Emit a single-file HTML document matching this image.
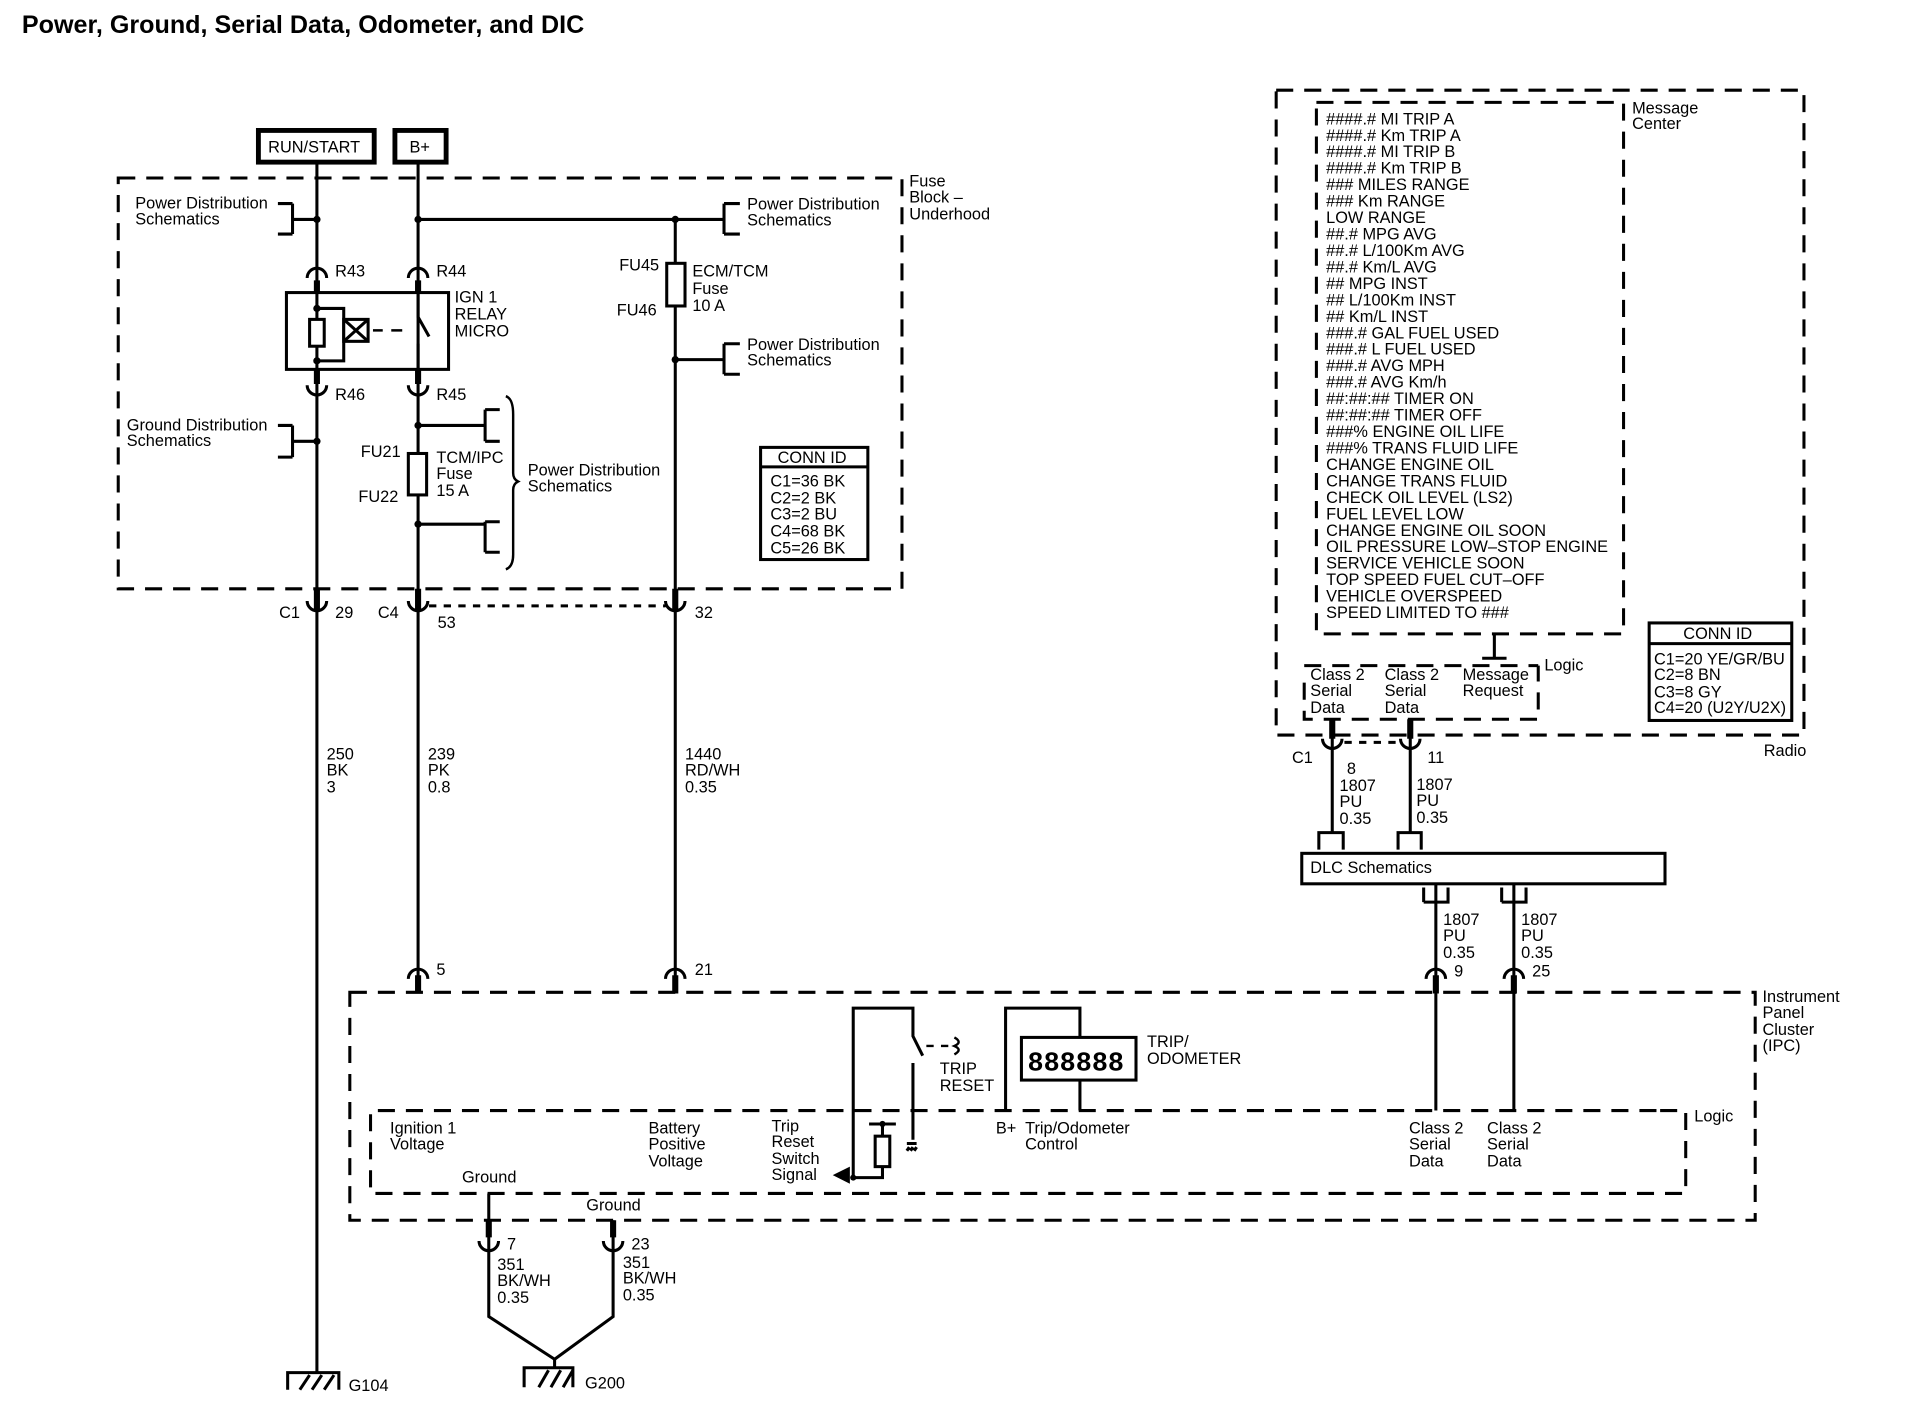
<!DOCTYPE html>
<html><head><meta charset="utf-8"><style>
html,body{margin:0;padding:0;background:#fff}
svg{display:block}
text{font-family:"Liberation Sans",sans-serif;font-size:13.4px;fill:#000}
.b{font-weight:bold}
</style></head><body>
<svg width="1910" height="1408" viewBox="0 0 1567 1155" preserveAspectRatio="none" xmlns="http://www.w3.org/2000/svg">
<rect width="1567" height="1155" fill="#fff"/>
<text x="18" y="27" class="b" style="font-size:20.6px">Power, Ground, Serial Data, Odometer, and DIC</text>
<g fill="none" stroke="#000" stroke-width="2.5">
<rect x="212" y="107" width="95" height="26" stroke-width="4"/>
<rect x="324" y="107" width="42" height="26" stroke-width="4"/>
<rect x="97" y="146" width="643" height="337" stroke-dasharray="14,9"/>
<rect x="287" y="814" width="1153" height="187" stroke-dasharray="14,9"/>
<path d="M1362 911 H1383 V979 H304 V911 H1362" stroke-dasharray="14,9"/>
<rect x="1047" y="74" width="433" height="529" stroke-dasharray="14,9"/>
<path d="M1080 84 H1332 V520 H1080 Z" stroke-dasharray="14,9"/>
<path d="M1070 560 V590 H1262 V546" stroke-dasharray="14,9"/>
<path d="M1070 546 H1262" stroke-dasharray="14,9"/>
<path d="M260 133 V1126"/>
<path d="M343 133 V815"/>
<path d="M554 180 V815"/>
<path d="M343 180 H594"/>
<path d="M594 167 V192 M594 167 H607 M594 192 H607"/>
<path d="M554 295 H594 M594 282 V307 M594 282 H607 M594 307 H607"/>
<path d="M260 180 H240 M240 167 V192 M228 167 H240 M228 192 H240"/>
<path d="M260 362 H240 M240 349 V375 M228 349 H240 M228 375 H240"/>
<path d="M343 349 H398 M398 336 V362 M398 336 H410 M398 362 H410"/>
<path d="M343 430 H398 M398 428 V453 M398 428 H410 M398 453 H410"/>
<path d="M415 325 Q421 327 421 340 V388 Q421 393 425 395 Q421 397 421 402 V455 Q421 465 415 467" stroke-width="2"/>
<rect x="235" y="240" width="133" height="63"/>
<rect x="254" y="262" width="12" height="22" fill="#fff"/>
<path d="M260 253 H282 V296 H260"/>
<rect x="282" y="262" width="20" height="18" fill="#fff"/>
<path d="M282 262 L302 280 M302 262 L282 280"/>
<path d="M306 271 H314 M321 271 H330" stroke-width="2"/>
<path d="M343 240 V260 L352 276 M343 282 V303"/>
<path d="M260 230 V240 M260 303 V315 M343 230 V240 M343 303 V315" stroke-width="5"/>
<rect x="335" y="372" width="15" height="34" fill="#fff"/>
<rect x="547" y="216" width="15" height="35" fill="#fff"/>
<rect x="624" y="367" width="88" height="92"/>
<path d="M624 383 H712"/>
<rect x="1353" y="511" width="117" height="80"/>
<path d="M1353 528 H1470"/>
<path d="M252 228 A8 8 0 0 1 268 228 M335 228 A8 8 0 0 1 351 228"/>
<path d="M252 316 A8 8 0 0 0 268 316 M335 316 A8 8 0 0 0 351 316"/>
<path d="M252 493 A8 8 0 0 0 268 493 M335 493 A8 8 0 0 0 351 493 M546 493 A8 8 0 0 0 562 493"/>
<path d="M260 483 V500 M343 483 V500 M554 483 V500" stroke-width="5"/>
<path d="M352 497 H546" stroke-dasharray="6,6"/>
<path d="M335 803 A8 8 0 0 1 351 803 M546 803 A8 8 0 0 1 562 803 M1170 803 A8 8 0 0 1 1186 803 M1234 803 A8 8 0 0 1 1250 803"/>
<path d="M343 800 V815 M554 800 V815 M1178 800 V815 M1242 800 V815" stroke-width="5"/>
<path d="M1178 725 V911 M1242 725 V911"/>
<path d="M1168 740 V728 M1168 740 H1188 V728 M1232 740 V728 M1232 740 H1252 V728"/>
<rect x="1068" y="700" width="298" height="25"/>
<path d="M1093 590 V683 M1157 590 V683"/>
<path d="M1093 590 V606 M1157 590 V606" stroke-width="5"/>
<path d="M1085 606 A8 8 0 0 0 1101 606 M1149 606 A8 8 0 0 0 1165 606"/>
<path d="M1103 609 H1147" stroke-dasharray="6,6"/>
<path d="M1082 697 V683 H1102 V697 M1147 697 V683 H1166 V697"/>
<path d="M1226 520 V540 M1216 540 H1236"/>
<path d="M700 966 V827 H749 V850 L757 866 M749 872 V935 M744 938 H752 M746 941 L744 944 M749 941 L747 944 M752 941 L750 944"/>
<path d="M760 858 H766 M772 858 H778 M783 851 Q790 855 783 858 Q790 861 783 865" stroke-width="2"/>
<path d="M700 966 H724 V957"/>
<rect x="718" y="932" width="12" height="25" fill="#fff"/>
<path d="M724 932 V922 M713 922 H735"/>
<path d="M686 964 L696 959 V969 Z" fill="#000"/>
<path d="M825 911 V827 H886 V851 M886 886 V911"/>
<rect x="838" y="851" width="94" height="35"/>
<text x="843" y="878" style="font-size:22px;font-family:'Liberation Mono',monospace;font-weight:bold;fill:#000;stroke:none">888888</text>
<path d="M401 979 V1080 L455 1115 M503 1001 V1080 L455 1115"/>
<path d="M401 1000 V1015 M503 1001 V1015" stroke-width="5"/>
<path d="M393 1018 A8 8 0 0 0 409 1018 M495 1018 A8 8 0 0 0 511 1018"/>
<path d="M455 1115 V1122 M430 1138 V1122 H470 V1138 M442 1138 L450 1124 M452 1138 L460 1124 M462 1138 L470 1124"/>
<path d="M236 1140 V1126 H278 V1140 M246 1140 L254 1128 M256 1140 L264 1128 M266 1140 L274 1128"/>
</g>
<g fill="#000">
<circle cx="260" cy="180" r="3"/><circle cx="343" cy="180" r="3"/><circle cx="554" cy="180" r="3"/>
<circle cx="554" cy="295" r="3"/><circle cx="260" cy="362" r="3"/><circle cx="343" cy="349" r="3"/><circle cx="343" cy="430" r="3"/>
<circle cx="260" cy="253" r="3"/><circle cx="260" cy="296" r="3"/><circle cx="700" cy="966" r="2.5"/><circle cx="724" cy="922" r="2.5"/>
</g>
<text x="220" y="125">RUN/START</text><text x="336" y="125">B+</text>
<text x="111" y="171">Power Distribution</text><text x="111" y="184">Schematics</text>
<text x="104" y="353">Ground Distribution</text><text x="104" y="366">Schematics</text>
<text x="275" y="227">R43</text><text x="358" y="227">R44</text>
<text x="275" y="328">R46</text><text x="358" y="328">R45</text>
<text x="373" y="248">IGN 1</text><text x="373" y="262">RELAY</text><text x="373" y="276">MICRO</text>
<text x="296" y="375">FU21</text><text x="294" y="412">FU22</text>
<text x="358" y="380">TCM/IPC</text><text x="358" y="393">Fuse</text><text x="358" y="407">15 A</text>
<text x="433" y="390">Power Distribution</text><text x="433" y="403">Schematics</text>
<text x="508" y="222">FU45</text><text x="506" y="259">FU46</text>
<text x="568" y="227">ECM/TCM</text><text x="568" y="241">Fuse</text><text x="568" y="255">10 A</text>
<text x="613" y="172">Power Distribution</text><text x="613" y="185">Schematics</text>
<text x="613" y="287">Power Distribution</text><text x="613" y="300">Schematics</text>
<text x="746" y="153">Fuse</text><text x="746" y="166">Block –</text><text x="746" y="180">Underhood</text>
<text x="638" y="380">CONN ID</text>
<text x="632" y="399">C1=36 BK</text><text x="632" y="413">C2=2 BK</text><text x="632" y="426">C3=2 BU</text><text x="632" y="440">C4=68 BK</text><text x="632" y="454">C5=26 BK</text>
<text x="229" y="507">C1</text><text x="275" y="507">29</text><text x="310" y="507">C4</text><text x="359" y="515">53</text><text x="570" y="507">32</text>
<text x="268" y="623">250</text><text x="268" y="636">BK</text><text x="268" y="650">3</text>
<text x="351" y="623">239</text><text x="351" y="636">PK</text><text x="351" y="650">0.8</text>
<text x="562" y="623">1440</text><text x="562" y="636">RD/WH</text><text x="562" y="650">0.35</text>
<text x="358" y="800">5</text><text x="570" y="800">21</text><text x="1193" y="801">9</text><text x="1257" y="801">25</text>
<text x="1184" y="759">1807</text><text x="1184" y="772">PU</text><text x="1184" y="786">0.35</text>
<text x="1248" y="759">1807</text><text x="1248" y="772">PU</text><text x="1248" y="786">0.35</text>
<text x="1105" y="635">8</text>
<text x="1099" y="649">1807</text><text x="1099" y="662">PU</text><text x="1099" y="676">0.35</text>
<text x="1162" y="648">1807</text><text x="1162" y="661">PU</text><text x="1162" y="675">0.35</text>
<text x="1060" y="626">C1</text><text x="1171" y="626">11</text>
<text x="1075" y="716">DLC Schematics</text>
<text x="1075" y="558">Class 2</text><text x="1075" y="571">Serial</text><text x="1075" y="585">Data</text>
<text x="1136" y="558">Class 2</text><text x="1136" y="571">Serial</text><text x="1136" y="585">Data</text>
<text x="1200" y="558">Message</text><text x="1200" y="571">Request</text>
<text x="1267" y="550">Logic</text>
<text x="1447" y="620">Radio</text>
<text x="1339" y="93">Message</text><text x="1339" y="106">Center</text>
<text x="1381" y="524">CONN ID</text>
<text x="1357" y="545">C1=20 YE/GR/BU</text><text x="1357" y="558">C2=8 BN</text><text x="1357" y="572">C3=8 GY</text><text x="1357" y="585">C4=20 (U2Y/U2X)</text>
<g>
<text x="1088" y="102">####.# MI TRIP A</text>
<text x="1088" y="115.5">####.# Km TRIP A</text>
<text x="1088" y="129">####.# MI TRIP B</text>
<text x="1088" y="142.5">####.# Km TRIP B</text>
<text x="1088" y="156">### MILES RANGE</text>
<text x="1088" y="169.5">### Km RANGE</text>
<text x="1088" y="183">LOW RANGE</text>
<text x="1088" y="196.5">##.# MPG AVG</text>
<text x="1088" y="210">##.# L/100Km AVG</text>
<text x="1088" y="223.5">##.# Km/L AVG</text>
<text x="1088" y="237">## MPG INST</text>
<text x="1088" y="250.5">## L/100Km INST</text>
<text x="1088" y="264">## Km/L INST</text>
<text x="1088" y="277.5">###.# GAL FUEL USED</text>
<text x="1088" y="291">###.# L FUEL USED</text>
<text x="1088" y="304.5">###.# AVG MPH</text>
<text x="1088" y="318">###.# AVG Km/h</text>
<text x="1088" y="331.5">##:##:## TIMER ON</text>
<text x="1088" y="345">##:##:## TIMER OFF</text>
<text x="1088" y="358.5">###% ENGINE OIL LIFE</text>
<text x="1088" y="372">###% TRANS FLUID LIFE</text>
<text x="1088" y="385.5">CHANGE ENGINE OIL</text>
<text x="1088" y="399">CHANGE TRANS FLUID</text>
<text x="1088" y="412.5">CHECK OIL LEVEL (LS2)</text>
<text x="1088" y="426">FUEL LEVEL LOW</text>
<text x="1088" y="439.5">CHANGE ENGINE OIL SOON</text>
<text x="1088" y="453">OIL PRESSURE LOW–STOP ENGINE</text>
<text x="1088" y="466.5">SERVICE VEHICLE SOON</text>
<text x="1088" y="480">TOP SPEED FUEL CUT–OFF</text>
<text x="1088" y="493.5">VEHICLE OVERSPEED</text>
<text x="1088" y="507">SPEED LIMITED TO ###</text>
</g>
<text x="1446" y="822">Instrument</text><text x="1446" y="835">Panel</text><text x="1446" y="849">Cluster</text><text x="1446" y="862">(IPC)</text>
<text x="1390" y="920">Logic</text>
<text x="941" y="859">TRIP/</text><text x="941" y="873">ODOMETER</text>
<text x="771" y="881">TRIP</text><text x="771" y="895">RESET</text>
<text x="320" y="930">Ignition 1</text><text x="320" y="943">Voltage</text>
<text x="379" y="970">Ground</text><text x="481" y="993">Ground</text>
<text x="532" y="930">Battery</text><text x="532" y="943">Positive</text><text x="532" y="957">Voltage</text>
<text x="633" y="928">Trip</text><text x="633" y="941">Reset</text><text x="633" y="955">Switch</text><text x="633" y="968">Signal</text>
<text x="817" y="930">B+</text><text x="841" y="930">Trip/Odometer</text><text x="841" y="943">Control</text>
<text x="1156" y="930">Class 2</text><text x="1156" y="943">Serial</text><text x="1156" y="957">Data</text>
<text x="1220" y="930">Class 2</text><text x="1220" y="943">Serial</text><text x="1220" y="957">Data</text>
<text x="416" y="1025">7</text><text x="518" y="1025">23</text>
<text x="408" y="1042">351</text><text x="408" y="1055">BK/WH</text><text x="408" y="1069">0.35</text>
<text x="511" y="1040">351</text><text x="511" y="1053">BK/WH</text><text x="511" y="1067">0.35</text>
<text x="286" y="1141">G104</text><text x="480" y="1139">G200</text>
</svg>
</body></html>
